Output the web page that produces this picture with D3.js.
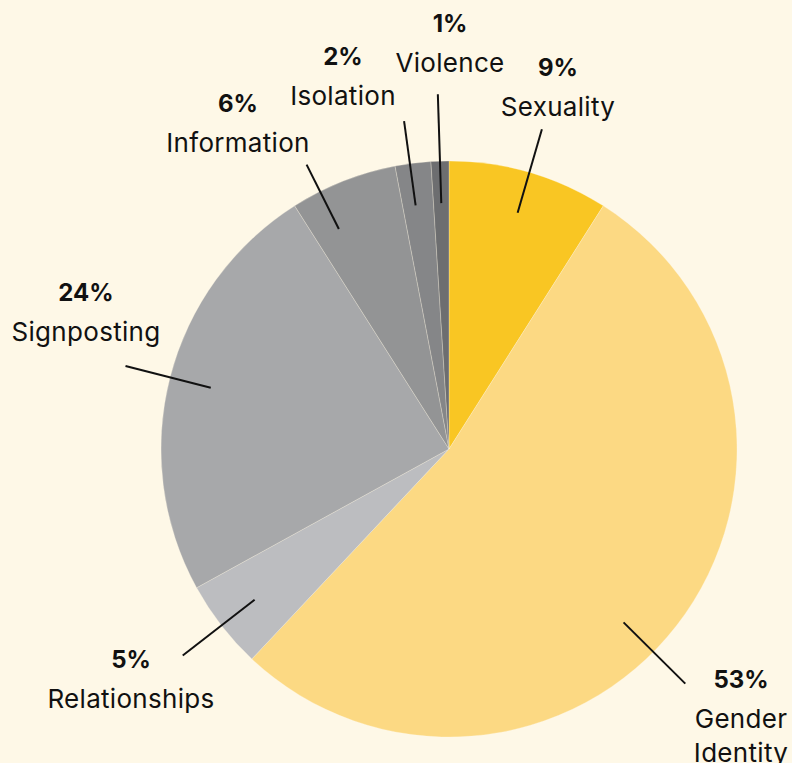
<!DOCTYPE html>
<html><head><meta charset="utf-8">
<script src="https://cdn.jsdelivr.net/npm/d3@7"></script>
<style>
html,body{margin:0;padding:0;background:#FEF8E7;}
svg{display:block;}
text{font-family:Inter,"Noto Sans",sans-serif;fill:#111;}
</style></head><body>
<svg id="chart" width="792" height="763"></svg>
<script>
const categories = ["Sexuality","Gender Identity","Relationships","Signposting","Information","Isolation","Violence"];
const values = [9,53,5,24,6,2,1];
const pctLabels = ["9%","53%","5%","24%","6%","2%","1%"];
const colors = ["#F9C623","#FCD983","#BCBDC0","#A7A8AA","#939495","#858688","#6D6E70"];
// label layout: text anchor center position, name lines, leader angle offset (deg)
const labelX = [558,741,131,86,238,343,450];
const labelY = [76,688,668,301,112,65,32];
const nameLines = [["Sexuality"],["Gender","Identity"],["Relationships"],["Signposting"],["Information"],["Isolation"],["Violence"]];
const leaderOffsetDeg = [0,7,0,0,-5,-0.6,0];
const leaderOuterR = [333,333,337,334,318,331,355];

const W=792,H=763,cx=449,cy=449,R=288;
const svg=d3.select("#chart");
svg.append("rect").attr("width",W).attr("height",H).attr("fill","#FEF8E7");
const g=svg.append("g").attr("transform",`translate(${cx},${cy})`);
const data=categories.map((c,i)=>({c,v:values[i],i}));
const pie=d3.pie().value(d=>d.v).sort(null);
const arcs=pie(data);
const arc=d3.arc().innerRadius(0).outerRadius(R);
g.selectAll("path").data(arcs).join("path")
  .attr("d",arc).attr("fill",d=>colors[d.data.i])
  .attr("stroke","#FEF8E7").attr("stroke-opacity",0.35).attr("stroke-width",0.8);

// leaders
arcs.forEach(a=>{
  const i=a.data.i;
  const ang=(a.startAngle+a.endAngle)/2 + leaderOffsetDeg[i]*Math.PI/180;
  const p=r=>[Math.sin(ang)*r,-Math.cos(ang)*r];
  const [x1,y1]=p(246),[x2,y2]=p(leaderOuterR[i]);
  g.append("line").attr("x1",x1).attr("y1",y1).attr("x2",x2).attr("y2",y2)
   .attr("stroke","#111").attr("stroke-width",2);
});

// labels
categories.forEach((c,i)=>{
  const t=svg.append("g");
  t.append("text").attr("x",labelX[i]).attr("y",labelY[i]).attr("text-anchor","middle")
   .attr("font-size",24).attr("font-weight",700).text(pctLabels[i]);
  nameLines[i].forEach((ln,j)=>{
    t.append("text").attr("x",labelX[i]).attr("y",labelY[i]+40+j*34).attr("text-anchor","middle")
     .attr("font-size",26).attr("letter-spacing",0.3).attr("font-weight",400).text(ln);
  });
});
</script></body></html>
